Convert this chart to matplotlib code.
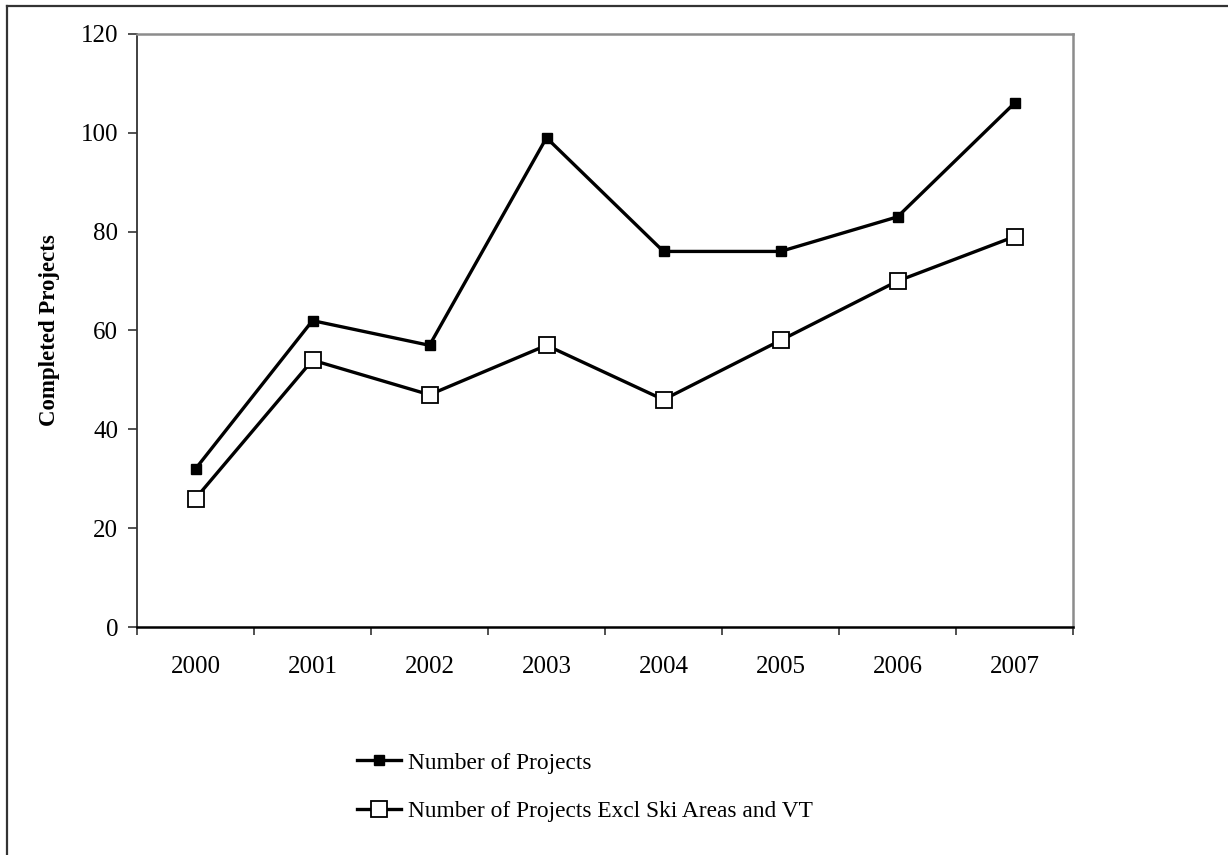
import matplotlib
matplotlib.use("Agg")
import matplotlib.pyplot as plt
import numpy as np
from matplotlib.lines import Line2D

# data
years = ["2000", "2001", "2002", "2003", "2004", "2005", "2006", "2007"]
all_projects = [32, 62, 57, 99, 76, 76, 83, 106]
excl_projects = [26, 54, 47, 57, 46, 58, 70, 79]
y_ticks = [0, 20, 40, 60, 80, 100, 120]

plt.rcParams['font.family'] = ['Liberation Serif', 'DejaVu Serif']

fig = plt.figure(figsize=(12.28, 8.55), dpi=100)
ax = fig.add_axes([137 / 1228, 1 - 627 / 855, 936 / 1228, (627 - 34) / 855])

x = np.arange(len(years))
ax.plot(x, all_projects, color='black', linewidth=2.4, marker='s',
        markersize=7.5, markerfacecolor='black', markeredgecolor='black',
        label='Number of Projects', clip_on=False)
ax.plot(x, excl_projects, color='black', linewidth=2.4, marker='s',
        markersize=12, markerfacecolor='white', markeredgecolor='black',
        markeredgewidth=1.3, label='Number of Projects Excl Ski Areas and VT',
        clip_on=False)

ax.set_xlim(-0.5, len(years) - 0.5)
ax.set_ylim(0, 120)
ax.set_yticks(y_ticks)
ax.tick_params(axis='y', direction='out', length=6.5, width=1.2,
               color='#333333', pad=7, labelsize=18)

# category boundaries get the tick marks, labels sit in the middle
ax.set_xticks(np.arange(-0.5, len(years), 1))
ax.set_xticklabels([])
ax.set_xticks(x, minor=True)
ax.set_xticklabels(years, minor=True)
ax.tick_params(axis='x', which='major', direction='out', length=6,
               width=1.2, color='#333333')
ax.tick_params(axis='x', which='minor', length=0, pad=21, labelsize=18)

ax.spines['left'].set_color('#333333')
ax.spines['left'].set_linewidth(1.3)
ax.spines['bottom'].set_color('black')
ax.spines['bottom'].set_linewidth(1.8)
for side in ('top', 'right'):
    ax.spines[side].set_color('#8c8c8c')
    ax.spines[side].set_linewidth(1.8)

ax.set_ylabel('Completed Projects', fontsize=16.5, fontweight='bold',
              va='center')
ax.yaxis.set_label_coords((50 - 137) / 936, 0.5)

ax.legend(loc='center left', bbox_to_anchor=(357 / 1228, 1 - 787 / 855),
          bbox_transform=fig.transFigure, frameon=False, fontsize=16.8,
          handlelength=1.9, handletextpad=0.3, labelspacing=1.15,
          borderpad=0, borderaxespad=0)

# outer chart border (only top and left edges are visible in the reference)
fig.add_artist(Line2D([7 / 1228, 7 / 1228], [0, 1 - 6 / 855],
                      transform=fig.transFigure, color='#333333', linewidth=1.6))
fig.add_artist(Line2D([7 / 1228, 1], [1 - 6 / 855, 1 - 6 / 855],
                      transform=fig.transFigure, color='#333333', linewidth=1.6))

fig.savefig('out.png', dpi=100)
